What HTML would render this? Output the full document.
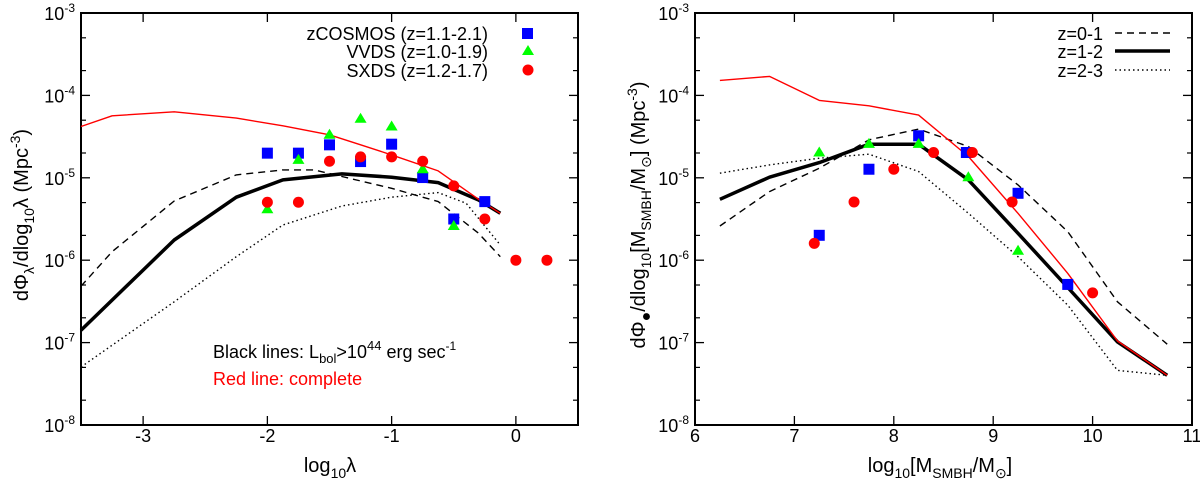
<!DOCTYPE html>
<html><head><meta charset="utf-8"><style>
body{margin:0;background:#fff;width:1200px;height:485px;overflow:hidden}
svg{display:block;font-family:"Liberation Sans",sans-serif}
</style></head><body>
<svg id="c" width="1200" height="485"></svg>
<script>
// ---- Left panel data (x = log10 lambda, y = log10 value)
const lRedX=[-3.5,-3.25,-2.75,-2.25,-1.875,-1.5,-1.25,-1,-0.625,-0.3,-0.125];
const lRedY=[-4.377,-4.247,-4.199,-4.276,-4.369,-4.478,-4.600,-4.722,-4.916,-5.261,-5.431];
const lSolX=[-3.5,-3,-2.75,-2.25,-1.875,-1.4,-1,-0.625,-0.3,-0.125];
const lSolY=[-6.85,-6.12,-5.755,-5.236,-5.026,-4.953,-4.993,-5.058,-5.269,-5.431];
const lDashX=[-3.5,-3.25,-2.75,-2.25,-1.875,-1.625,-1,-0.625,-0.3,-0.125];
const lDashY=[-6.315,-5.897,-5.281,-4.965,-4.904,-4.904,-5.127,-5.289,-5.674,-5.958];
const lDotX=[-3.5,-2.75,-2.25,-1.875,-1.4,-1,-0.625,-0.4,-0.125];
const lDotY=[-7.296,-6.505,-5.958,-5.573,-5.342,-5.236,-5.180,-5.309,-5.816];
const lSqX=[-2,-1.75,-1.5,-1.25,-1,-0.75,-0.5,-0.25];
const lSqY=[-4.701,-4.701,-4.600,-4.803,-4.592,-4.997,-5.500,-5.289];
const lTriX=[-2,-1.75,-1.5,-1.25,-1,-0.75,-0.5];
const lTriY=[-5.382,-4.782,-4.478,-4.284,-4.377,-4.896,-5.585];
const lCirX=[-2,-1.75,-1.5,-1.25,-1,-0.75,-0.5,-0.25,0,0.25];
const lCirY=[-5.297,-5.297,-4.799,-4.746,-4.746,-4.799,-5.098,-5.500,-6.0,-6.0];
const lXTicks=[-3,-2,-1,0];
// ---- Right panel data (x = log10 M, y = log10 value)
const rX=[6.25,6.75,7.25,7.75,8.25,8.75,9.25,9.75,10.25,10.75];
const rRedY=[-3.818,-3.769,-4.061,-4.126,-4.239,-4.742,-5.431,-6.16,-6.98,-7.397];
const rSolY=[-5.261,-4.993,-4.815,-4.592,-4.592,-5.026,-5.674,-6.331,-6.992,-7.397];
const rDashY=[-5.585,-5.167,-4.884,-4.539,-4.409,-4.620,-5.086,-5.654,-6.505,-7.02];
const rDotY=[-4.944,-4.843,-4.762,-4.713,-4.924,-5.431,-5.958,-6.546,-7.337,-7.397];
const rSqX=[7.25,7.75,8.25,8.73,9.25,9.75];
const rSqY=[-5.698,-4.896,-4.490,-4.693,-5.188,-6.294];
const rTriX=[7.25,7.75,8.25,8.75,9.25];
const rTriY=[-4.693,-4.588,-4.588,-4.993,-5.885];
const rCirX=[7.2,7.6,8.0,8.4,8.79,9.19,10.0];
const rCirY=[-5.796,-5.293,-4.896,-4.693,-4.693,-5.293,-6.396];
const rXTicks=[6,7,8,9,10,11];
const yDecades=[-3,-4,-5,-6,-7,-8];

const NS="http://www.w3.org/2000/svg";
const svg=document.getElementById('c');
function mk(t,a,p){const e=document.createElementNS(NS,t);for(const k in a)e.setAttribute(k,a[k]);(p||svg).appendChild(e);return e;}
const Y0=13,Y1=425;
function yS(v){return Y0+(-3-v)*(Y1-Y0)/5;}

function panel(name,x0,x1,xmin,xmax,xticks){
  const g=mk('g',{});
  
  
  const xS=v=>x0+(v-xmin)*(x1-x0)/(xmax-xmin);
  yDecades.forEach(d=>{
    const y=yS(d);
    const t1=mk('line',{x1:x0,x2:x0+9,y1:y,y2:y,stroke:'#000','stroke-width':1.3},g);
    
    
    mk('line',{x1:x1,x2:x1-9,y1:y,y2:y,stroke:'#000','stroke-width':1.3},g);
    if(d>-8){[Math.log10(5),Math.log10(2)].forEach(m=>{
      const yy=yS(d-1+m);
      mk('line',{x1:x0,x2:x0+5,y1:yy,y2:yy,stroke:'#000','stroke-width':1.2},g);
      mk('line',{x1:x1,x2:x1-5,y1:yy,y2:yy,stroke:'#000','stroke-width':1.2},g);
    });}
    const tl=mk('text',{x:x0-6,y:y+7,'text-anchor':'end','font-size':18},g);
    
    
    tl.innerHTML='10<tspan dy="-8" font-size="12">'+d+'</tspan>';
  });
  xticks.forEach(v=>{
    const x=xS(v);
    mk('line',{x1:x,x2:x,y1:Y1,y2:Y1-9,stroke:'#000','stroke-width':1.3},g);
    mk('line',{x1:x,x2:x,y1:Y0,y2:Y0+9,stroke:'#000','stroke-width':1.3},g);
    const tl=mk('text',{x:x,y:442,'text-anchor':'middle','font-size':18},g);
    
    
    tl.textContent=v;
  });
  const fr=mk('rect',{x:x0,y:Y0,width:x1-x0,height:Y1-Y0,fill:'none',stroke:'#000','stroke-width':2},g);
  
  
  return {g,xS};
}
function line(P,xs,ys,attrs,nm){
  const d=xs.map((v,i)=>(i?'L':'M')+P.xS(v).toFixed(1)+','+yS(ys[i]).toFixed(1)).join(' ');
  const a=Object.assign({d:d,fill:'none','stroke-linejoin':'round'},attrs);
  const e=mk('path',a,P.g);
  
  
}
function squares(P,xs,ys,nm){xs.forEach((v,i)=>{const x=P.xS(v),y=yS(ys[i]);
  const e=mk('rect',{x:x-5.5,y:y-5.5,width:11,height:11,fill:'#0000ff'},P.g);
  });}
function tris(P,xs,ys,nm){xs.forEach((v,i)=>{const x=P.xS(v),y=yS(ys[i]);
  const e=mk('polygon',{points:`${x},${y-6} ${x-6},${y+4} ${x+6},${y+4}`,fill:'#00ff00'},P.g);
  });}
function circs(P,xs,ys,nm){xs.forEach((v,i)=>{const x=P.xS(v),y=yS(ys[i]);
  const e=mk('circle',{cx:x,cy:y,r:5.5,fill:'#ff0000'},P.g);
  });}
const dash={stroke:'#000','stroke-width':1.4,'stroke-dasharray':'7,5'};
const solid={stroke:'#000','stroke-width':3.5};
const dot={stroke:'#000','stroke-width':1.4,'stroke-dasharray':'1.5,3'};
const red={stroke:'#ff0000','stroke-width':1.4};

const L=panel('left-panel',81,578,-3.5,0.5,lXTicks);
line(L,lDotX,lDotY,dot,'left-dotted-line');
line(L,lDashX,lDashY,dash,'left-dashed-line');
line(L,lSolX,lSolY,solid,'left-solid-line');
line(L,lRedX,lRedY,red,'left-red-line');
squares(L,lSqX,lSqY,'zcosmos-point');
tris(L,lTriX,lTriY,'vvds-point');
circs(L,lCirX,lCirY,'sxds-point');
const R=panel('right-panel',695,1192,6,11,rXTicks);
line(R,rX,rDotY,dot,'right-dotted-line');
line(R,rX,rDashY,dash,'right-dashed-line');
line(R,rX,rSolY,solid,'right-solid-line');
line(R,rX,rRedY,red,'right-red-line');
squares(R,rSqX,rSqY,'zcosmos-point');
tris(R,rTriX,rTriY,'vvds-point');
circs(R,rCirX,rCirY,'sxds-point');
</script>
<svg style="position:absolute;left:0;top:0" width="1200" height="485">
<g font-family="Liberation Sans,sans-serif" font-size="18">
 <g>
  <text x="488" y="40" text-anchor="end">zCOSMOS (z=1.1-2.1)</text>
  <rect x="522" y="28" width="11" height="11" fill="#0000ff"/>
  <text x="488" y="58" text-anchor="end">VVDS (z=1.0-1.9)</text>
  <polygon points="528,45 522,55 534,55" fill="#00ff00"/>
  <text x="488" y="77" text-anchor="end">SXDS (z=1.2-1.7)</text>
  <circle cx="528" cy="70" r="5.5" fill="#ff0000"/>
 </g>
 <text x="213" y="358">Black lines: L<tspan dy="5" font-size="13">bol</tspan><tspan dy="-5">&gt;10</tspan><tspan dy="-8" font-size="13">44</tspan><tspan dy="8"> erg sec</tspan><tspan dy="-8" font-size="12">-1</tspan></text>
 <text x="213" y="385" fill="#ff0000">Red line: complete</text>
 <g>
  <text x="1103" y="40" text-anchor="end">z=0-1</text>
  <line x1="1115" x2="1170" y1="33" y2="33" stroke="#000" stroke-width="1.4" stroke-dasharray="7,5"/>
  <text x="1103" y="58" text-anchor="end">z=1-2</text>
  <line x1="1115" x2="1170" y1="51" y2="51" stroke="#000" stroke-width="3.5"/>
  <text x="1103" y="77" text-anchor="end">z=2-3</text>
  <line x1="1115" x2="1170" y1="70" y2="70" stroke="#000" stroke-width="1.4" stroke-dasharray="1.5,3"/>
 </g>
 <text x="330" y="472" text-anchor="middle" font-size="20">log<tspan dy="6" font-size="14">10</tspan><tspan dy="-6">λ</tspan></text>
 <text x="940" y="472" text-anchor="middle" font-size="20">log<tspan dy="6" font-size="14">10</tspan><tspan dy="-6">[M</tspan><tspan dy="6" font-size="14">SMBH</tspan><tspan dy="-6">/M</tspan><tspan dy="6" font-size="14">⊙</tspan><tspan dy="-6">]</tspan></text>
 <text transform="translate(28,215) rotate(-90)" text-anchor="middle" font-size="20">dΦ<tspan dy="6" font-size="14">λ</tspan><tspan dy="-6">/dlog</tspan><tspan dy="6" font-size="14">10</tspan><tspan dy="-6">λ (Mpc</tspan><tspan dy="-8" font-size="14">-3</tspan><tspan dy="8">)</tspan></text>
 <text transform="translate(645,215) rotate(-90)" text-anchor="middle" font-size="20">dΦ<tspan dy="6" font-size="16">●</tspan><tspan dy="-6">/dlog</tspan><tspan dy="6" font-size="14">10</tspan><tspan dy="-6">[M</tspan><tspan dy="6" font-size="14">SMBH</tspan><tspan dy="-6">/M</tspan><tspan dy="6" font-size="14">⊙</tspan><tspan dy="-6">] (Mpc</tspan><tspan dy="-8" font-size="14">-3</tspan><tspan dy="8">)</tspan></text>
</g>
</svg>
</body></html>
